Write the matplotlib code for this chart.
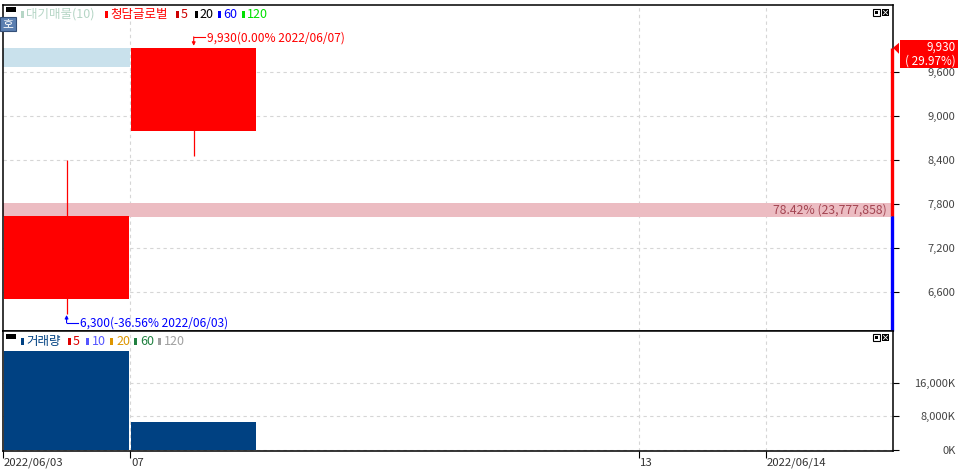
import matplotlib.pyplot as plt
from matplotlib.patches import Rectangle, Polygon
from matplotlib.transforms import ScaledTranslation

plt.rcParams['font.family'] = ['Noto Sans CJK KR', 'DejaVu Sans']

# 일자별 데이터
dates = ["2022/06/03", "2022/06/07", "2022/06/08", "2022/06/09",
         "2022/06/10", "2022/06/13", "2022/06/14"]
opens = [6500, 8800]
highs = [8400, 9930]
lows = [6300, 8450]
closes = [7640, 9930]
volume_k = [23778, 6543]

# 대기매물 (가격대별 거래량)
profile_lo = [7620, 9670]
profile_hi = [7815, 9930]
profile_len = [7, 1]
profile_col = ['#ecbcc2', '#c9e1ec']
profile_txt = "78.42% (23,777,858)"

price_ticks = [6600, 7200, 7800, 8400, 9000, 9600]
vol_ticks = [0, 8000, 16000]
xtick_pos = [0, 1, 5, 6]
xtick_lab = ["2022/06/03", "07", "13", "2022/06/14"]
vgrid = [1, 5, 6]

RED = '#ff0000'
BLUE = '#0000ff'
VOLC = '#004182'
GRID = '#d6d6d6'
W, H = 958, 470

fig = plt.figure(figsize=(W / 100, H / 100), dpi=100)
ax = fig.add_axes([3 / W, 1 - 331 / H, 890 / W, 326 / H])
axv = fig.add_axes([3 / W, 1 - 451 / H, 890 / W, 120 / H])
ov = fig.add_axes([0, 0, 1, 1], zorder=5)
ov.set_xlim(0, W)
ov.set_ylim(H, 0)
ov.axis('off')

n = len(dates)
for a in (ax, axv):
    a.set_xlim(0, n)
    for s in a.spines.values():
        s.set_linewidth(1.1)
    for x in vgrid:
        a.axvline(x, color=GRID, lw=0.8, ls=(0, (3, 3)), zorder=0)

# 가격 패널
ax.set_ylim(6068, 10514)
for y in price_ticks:
    ax.axhline(y, color=GRID, lw=0.8, ls=(0, (3, 3)), zorder=0)
for lo, hi, ln, c in zip(profile_lo, profile_hi, profile_len, profile_col):
    ax.add_patch(Rectangle((0, lo), ln, hi - lo, color=c, lw=0, zorder=1))
ax.text(n, (profile_lo[0] + profile_hi[0]) / 2, profile_txt, ha='right', va='center',
        fontsize=8.8, color='#a34552', zorder=2,
        transform=ax.transData + ScaledTranslation(-6 / 100, 0, fig.dpi_scale_trans))

for i in range(len(opens)):
    col = RED if closes[i] >= opens[i] else BLUE
    ax.vlines(i + 0.5, lows[i], highs[i], color=col, lw=0.9, zorder=3)
    ax.bar(i + 0.5, abs(closes[i] - opens[i]), bottom=min(opens[i], closes[i]),
           width=0.98, color=col, zorder=4)

ax.set_xticks([])
ax.yaxis.tick_right()
ax.set_yticks(price_ticks, [f"{v:,}" for v in price_ticks], ha='right')
ax.tick_params(axis='y', length=4, width=0.8, pad=41, labelsize=8, labelcolor='#444444')

# 현재가 표시 막대
shift = ScaledTranslation(-1.5 / 100, 0, fig.dpi_scale_trans)
ax.plot([n, n], [closes[-1], closes[-2]], color=RED, lw=2.4, solid_capstyle='butt',
        clip_on=False, zorder=6, transform=ax.transData + shift)
ax.plot([n, n], [closes[-2], ax.get_ylim()[0]], color=BLUE, lw=2.4, solid_capstyle='butt',
        clip_on=False, zorder=6, transform=ax.transData + shift)

# 거래량 패널
axv.set_ylim(-360, 28510)
for y in vol_ticks:
    axv.axhline(y, color=GRID, lw=0.8, ls=(0, (3, 3)), zorder=0)
axv.bar([i + 0.5 for i in range(len(volume_k))], volume_k, width=0.98, color=VOLC, zorder=3)
axv.yaxis.tick_right()
axv.set_yticks(vol_ticks, [f"{v:,}K" for v in vol_ticks], ha='right')
axv.tick_params(axis='y', length=4, width=0.8, pad=41, labelsize=8, labelcolor='#444444')
axv.set_xticks(xtick_pos, xtick_lab, ha='left')
axv.tick_params(axis='x', length=5, width=0.8, pad=0, labelsize=8.2, labelcolor='#333333')
for t in axv.get_xticklabels():
    t.set_transform(t.get_transform() + ScaledTranslation(1 / 100, 0, fig.dpi_scale_trans))


def pix(a, x, y):
    dx, dy = a.transData.transform((x, y))
    return dx, H - dy


# 최고가 / 최저가 주석
hx, hy = pix(ax, 1.5, highs[1])
ov.plot([hx, hx + 11], [hy - 11, hy - 11], color=RED, lw=0.8)
ov.annotate('', xy=(hx, hy - 2), xytext=(hx, hy - 11),
            arrowprops=dict(arrowstyle='-|>', color=RED, lw=0.8, mutation_scale=5,
                            shrinkA=0, shrinkB=0))
ov.text(hx + 13, hy - 10, "9,930(0.00% 2022/06/07)", color=RED, fontsize=8.6,
        va='center', ha='left')

lx, ly = pix(ax, 0.5, lows[0])
ov.plot([lx, lx + 11], [ly + 9, ly + 9], color=BLUE, lw=0.8)
ov.annotate('', xy=(lx, ly + 1), xytext=(lx, ly + 9),
            arrowprops=dict(arrowstyle='-|>', color=BLUE, lw=0.8, mutation_scale=5,
                            shrinkA=0, shrinkB=0))
ov.text(lx + 13, ly + 9, "6,300(-36.56% 2022/06/03)", color=BLUE, fontsize=8.6,
        va='center', ha='left')

# 우측 현재가 박스
cx, cy = pix(ax, n, closes[-1])
ov.add_patch(Polygon([[cx + 6, cy - 5], [cx + 6, cy + 6], [cx, cy]], color=RED, lw=0))
ov.add_patch(Rectangle((cx + 7, cy - 8), 60, 28, color=RED, lw=0))
ov.text(956, cy - 1, "9,930", color='white', fontsize=8.4, ha='right', va='center')
ov.text(956, cy + 13, "( 29.97%)", color='white', fontsize=8.4, ha='right', va='center')

# 범례
top_leg = [(21, 26, '대기매물(10)', '#b6d6c6'), (105, 110, '청담글로벌', RED),
           (176, 181, '5', '#cc0000'), (195, 199, '20', '#000000'),
           (218, 223, '60', BLUE), (242, 247, '120', '#00e000')]
vol_leg = [(21, 26, '거래량', VOLC), (68, 73, '5', '#dd0000'), (86, 92, '10', '#5555ff'),
           (110, 116, '20', '#dd9500'), (134, 140, '60', '#208040'),
           (158, 164, '120', '#a0a0a0')]
for yc, items in ((14, top_leg), (341, vol_leg)):
    ov.add_patch(Rectangle((6, yc - 7), 10, 5, color='black', lw=0))
    for mx, tx, lab, c in items:
        ov.add_patch(Rectangle((mx, yc - 3), 3, 7, color=c, lw=0))
        ov.text(tx, yc + 0.5, lab, color=c, fontsize=9, ha='left', va='center')

# '호' 버튼
ov.add_patch(Rectangle((0, 17), 16, 14, facecolor='#5b7fb0', edgecolor='#34507a', lw=0.8))
ov.text(8, 24, '호', color='white', fontsize=8.5, ha='center', va='center')

# 우상단 아이콘
for yt in (9, 334):
    ov.add_patch(Rectangle((873, yt), 7, 7, facecolor='white', edgecolor='black', lw=0.8))
    ov.add_patch(Rectangle((875, yt + 2), 3, 3, color='black', lw=0))
    ov.add_patch(Rectangle((882, yt), 7, 7, color='black', lw=0))
    ov.plot([883.5, 887.5], [yt + 1.5, yt + 5.5], color='white', lw=0.6)
    ov.plot([883.5, 887.5], [yt + 5.5, yt + 1.5], color='white', lw=0.6)

fig.savefig('out.png', dpi=100)
